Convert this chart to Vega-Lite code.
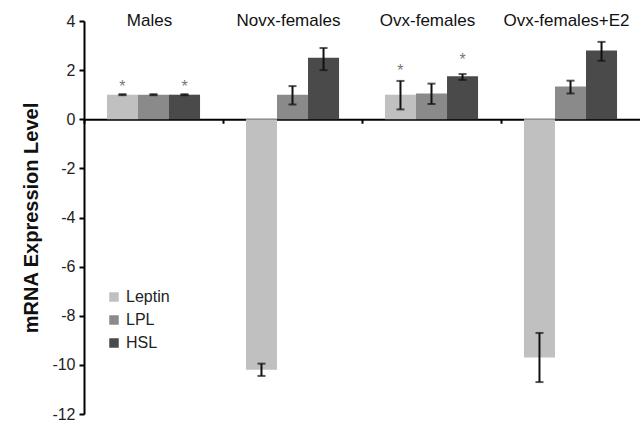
{
  "$schema": "https://vega.github.io/schema/vega-lite/v6.json",
  "autosize": {"type": "none"},
  "padding": {"left": 84, "top": 21, "right": 0, "bottom": 7},
  "width": 556,
  "height": 393,
  "config": {"view": {"stroke": null}, "font": "Liberation Sans"},
  "datasets": {
    "bars": [
      {"group": "Males", "gene": "Leptin", "value": 1.0, "lo": 0.98, "hi": 1.02},
      {"group": "Males", "gene": "LPL", "value": 1.0, "lo": 0.98, "hi": 1.02},
      {"group": "Males", "gene": "HSL", "value": 1.0, "lo": 0.98, "hi": 1.02},
      {"group": "Novx-females", "gene": "Leptin", "value": -10.2, "lo": -10.45, "hi": -9.95},
      {"group": "Novx-females", "gene": "LPL", "value": 1.0, "lo": 0.6, "hi": 1.35},
      {"group": "Novx-females", "gene": "HSL", "value": 2.5, "lo": 2.0, "hi": 2.9},
      {"group": "Ovx-females", "gene": "Leptin", "value": 1.0, "lo": 0.4, "hi": 1.56},
      {"group": "Ovx-females", "gene": "LPL", "value": 1.05, "lo": 0.62, "hi": 1.45},
      {"group": "Ovx-females", "gene": "HSL", "value": 1.75, "lo": 1.6, "hi": 1.84},
      {"group": "Ovx-females+E2", "gene": "Leptin", "value": -9.7, "lo": -10.7, "hi": -8.7},
      {"group": "Ovx-females+E2", "gene": "LPL", "value": 1.33, "lo": 1.05, "hi": 1.57},
      {"group": "Ovx-females+E2", "gene": "HSL", "value": 2.8, "lo": 2.38, "hi": 3.15}
    ],
    "stars": [
      {"group": "Males", "gene": "Leptin", "y": 1.3},
      {"group": "Males", "gene": "HSL", "y": 1.3},
      {"group": "Ovx-females", "gene": "Leptin", "y": 1.95},
      {"group": "Ovx-females", "gene": "HSL", "y": 2.4}
    ],
    "labels": [
      {"group": "Males"},
      {"group": "Novx-females"},
      {"group": "Ovx-females"},
      {"group": "Ovx-females+E2"}
    ]
  },
  "encoding": {
    "x": {
      "field": "group",
      "type": "nominal",
      "sort": ["Males", "Novx-females", "Ovx-females", "Ovx-females+E2"],
      "scale": {"domain": ["Males", "Novx-females", "Ovx-females", "Ovx-females+E2"], "paddingInner": 0, "paddingOuter": 0},
      "axis": {
        "title": null,
        "labels": false,
        "orient": "bottom",
        "offset": -294.75,
        "bandPosition": 0,
        "domainColor": "#000000",
        "domainWidth": 2,
        "tickColor": "#000000",
        "tickWidth": 2,
        "tickSize": 4,
        "grid": false
      }
    }
  },
  "layer": [
    {
      "data": {"name": "bars"},
      "mark": {"type": "bar"},
      "encoding": {
        "xOffset": {
          "field": "gene",
          "type": "nominal",
          "sort": ["Leptin", "LPL", "HSL"],
          "scale": {"domain": ["Leptin", "LPL", "HSL"], "paddingInner": 0, "paddingOuter": 0.74}
        },
        "y": {
          "field": "value",
          "type": "quantitative",
          "scale": {"domain": [-12, 4], "nice": false},
          "axis": {
            "title": "mRNA Expression Level",
            "titleFontSize": 20,
            "titleFontWeight": "bold",
            "titleColor": "#111111",
            "titlePadding": 10,
            "values": [-12, -10, -8, -6, -4, -2, 0, 2, 4],
            "labelExpr": "toString(datum.value)",
            "labelFontSize": 16,
            "labelColor": "#222222",
            "labelPadding": 4,
            "domainColor": "#000000",
            "domainWidth": 2,
            "tickColor": "#000000",
            "tickWidth": 2,
            "tickSize": 5,
            "grid": false
          }
        },
        "color": {
          "field": "gene",
          "type": "nominal",
          "sort": ["Leptin", "LPL", "HSL"],
          "scale": {"domain": ["Leptin", "LPL", "HSL"], "range": ["#c0c0c0", "#8a8a8a", "#4a4a4a"]},
          "legend": {
            "title": null,
            "orient": "none",
            "legendX": 22,
            "legendY": 268,
            "symbolType": "square",
            "symbolSize": 90,
            "symbolStrokeWidth": 0,
            "labelFontSize": 16,
            "labelColor": "#222222",
            "rowPadding": 7,
            "padding": 0
          }
        }
      }
    },
    {
      "data": {"name": "bars"},
      "mark": {"type": "rule", "color": "#111111", "strokeWidth": 2},
      "encoding": {
        "xOffset": {"field": "gene", "type": "nominal", "sort": ["Leptin", "LPL", "HSL"]},
        "y": {"field": "lo", "type": "quantitative"},
        "y2": {"field": "hi"}
      }
    },
    {
      "data": {"name": "bars"},
      "mark": {"type": "tick", "color": "#111111", "thickness": 2, "size": 8},
      "encoding": {
        "xOffset": {"field": "gene", "type": "nominal", "sort": ["Leptin", "LPL", "HSL"]},
        "y": {"field": "lo", "type": "quantitative"}
      }
    },
    {
      "data": {"name": "bars"},
      "mark": {"type": "tick", "color": "#111111", "thickness": 2, "size": 8},
      "encoding": {
        "xOffset": {"field": "gene", "type": "nominal", "sort": ["Leptin", "LPL", "HSL"]},
        "y": {"field": "hi", "type": "quantitative"}
      }
    },
    {
      "data": {"name": "stars"},
      "mark": {"type": "text", "text": "*", "fontSize": 16, "color": "#777777", "baseline": "middle"},
      "encoding": {
        "xOffset": {"field": "gene", "type": "nominal", "sort": ["Leptin", "LPL", "HSL"]},
        "y": {"field": "y", "type": "quantitative"}
      }
    },
    {
      "data": {"name": "labels"},
      "mark": {"type": "text", "fontSize": 17, "color": "#111111", "baseline": "middle", "align": "center", "dx": -4},
      "encoding": {
        "x": {"field": "group", "type": "nominal", "bandPosition": 0.5, "sort": ["Males", "Novx-females", "Ovx-females", "Ovx-females+E2"]},
        "text": {"field": "group"},
        "y": {"datum": 4, "type": "quantitative"}
      }
    }
  ]
}
